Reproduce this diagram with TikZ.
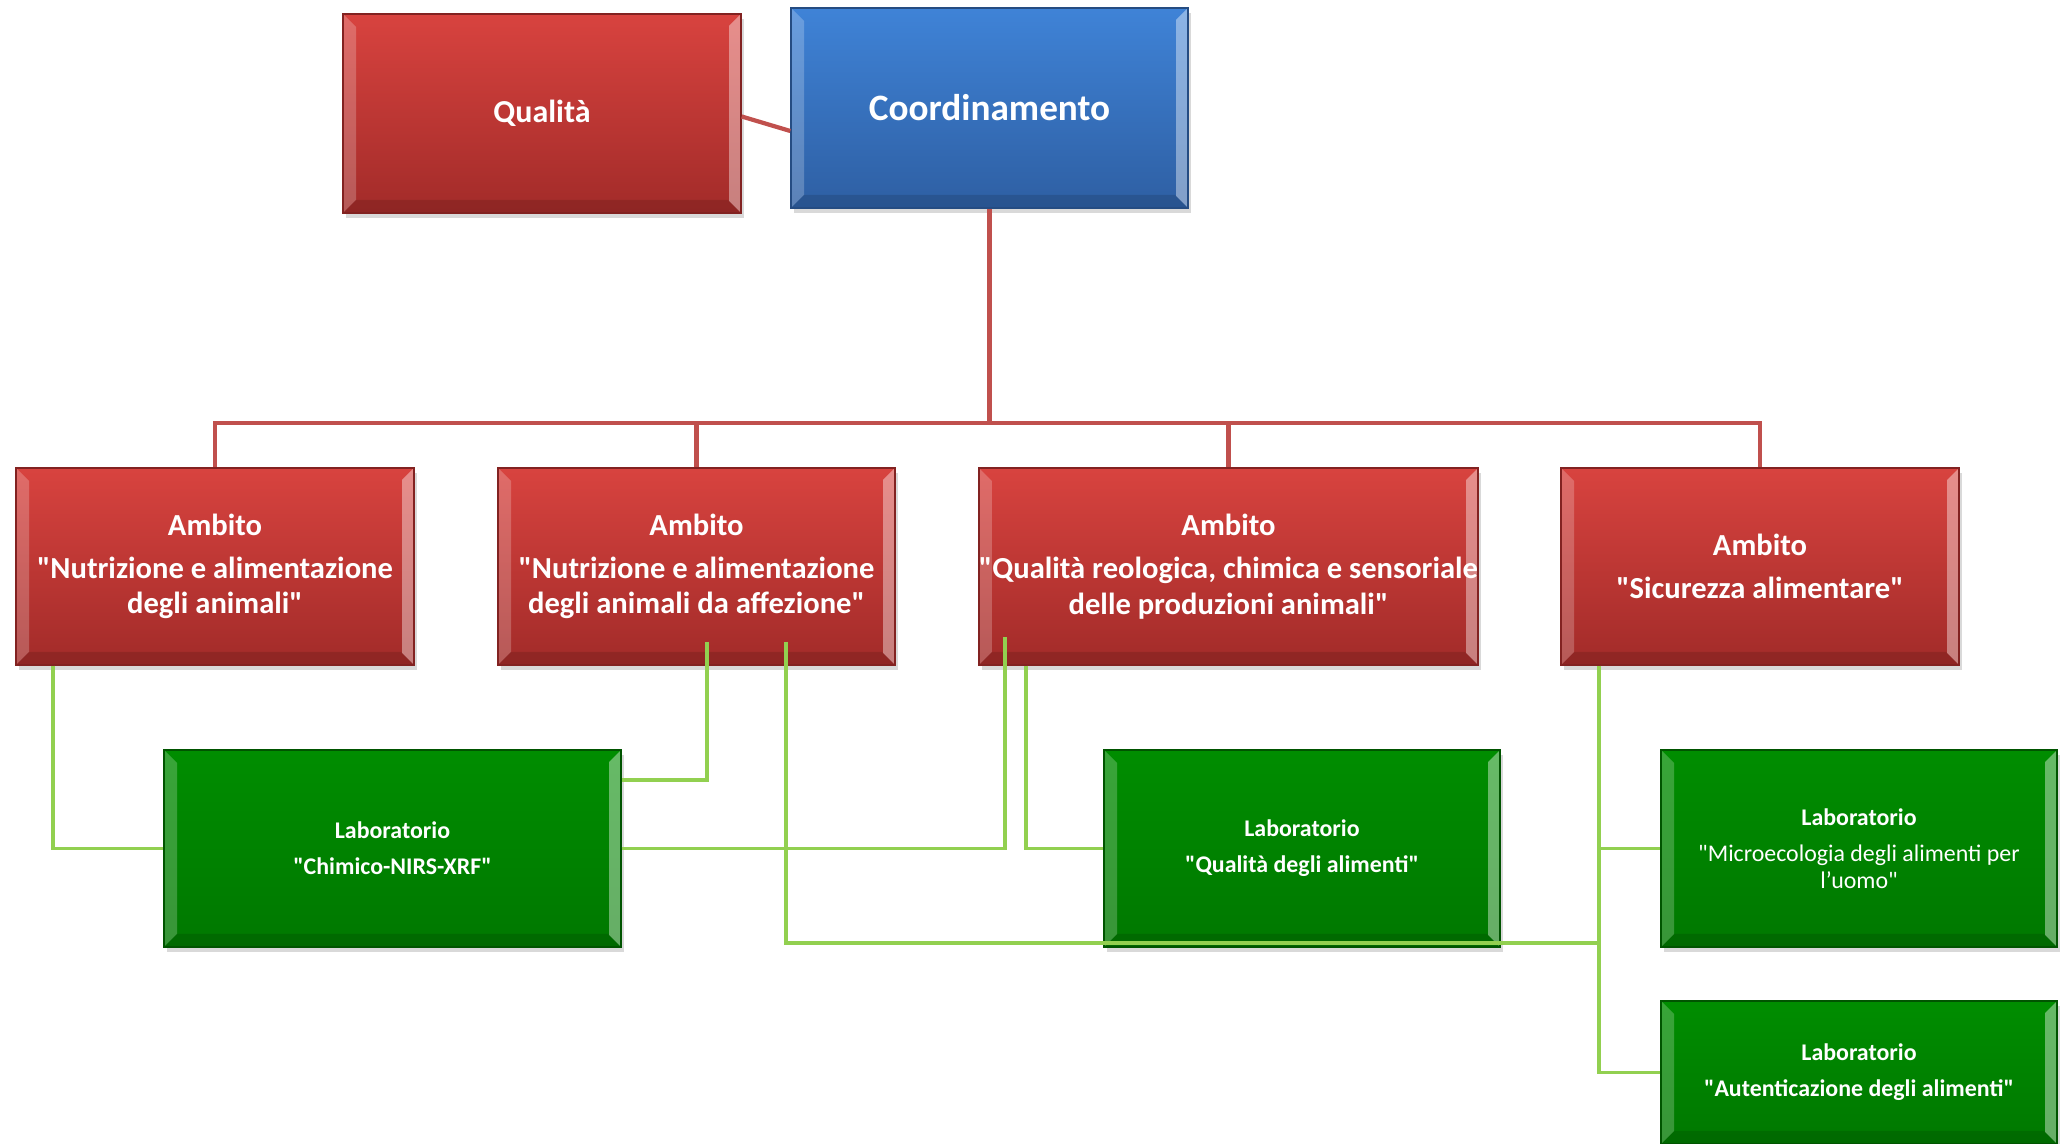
\documentclass[tikz,border=0pt]{standalone}
\usepackage{fontspec}
\setmainfont{Carlito}[Ligatures=TeXOff]
\usetikzlibrary{calc, shadows}

\definecolor{ambitotop}{HTML}{D8433F}
\definecolor{ambitobot}{HTML}{A22B29}
\definecolor{coordtop}{HTML}{3F83D7}
\definecolor{coordbot}{HTML}{2E5FA3}
\definecolor{labtop}{HTML}{008D00}
\definecolor{labbot}{HTML}{007800}
\definecolor{redwire}{HTML}{C0504D}
\definecolor{greenwire}{HTML}{92D050}

\tikzset{
  bevelbox/.style={inner sep=0pt, align=center, text=white,
    drop shadow={shadow xshift=.03cm, shadow yshift=-.05cm, opacity=.3},
    path picture={
      \fill[white, opacity=.22] (path picture bounding box.north west) -- ([shift={(.13,-.13)}]path picture bounding box.north west)
        -- ([shift={(.13,.13)}]path picture bounding box.south west) -- (path picture bounding box.south west) -- cycle;
      \fill[white, opacity=.4] (path picture bounding box.north east) -- ([shift={(-.12,-.12)}]path picture bounding box.north east)
        -- ([shift={(-.12,.12)}]path picture bounding box.south east) -- (path picture bounding box.south east) -- cycle;
      \fill[black, opacity=.12] (path picture bounding box.south west) -- ([shift={(.13,.13)}]path picture bounding box.south west)
        -- ([shift={(-.13,.13)}]path picture bounding box.south east) -- (path picture bounding box.south east) -- cycle;
    }},
  ambitobox/.style={bevelbox, top color=ambitotop, bottom color=ambitobot, draw=ambitobot!80!black, line width=.4pt,
    minimum height=1.97cm, font=\bfseries\fontsize{8.7}{10}\selectfont},
  coordbox/.style={bevelbox, top color=coordtop, bottom color=coordbot, draw=coordbot!80!black, line width=.4pt,
    minimum width=3.97cm, minimum height=2cm, font=\bfseries\fontsize{10.6}{12}\selectfont},
  labbox/.style={bevelbox, top color=labtop, bottom color=labbot, draw=labbot!70!black, line width=.4pt,
    minimum width=3.96cm, minimum height=1.97cm, font=\bfseries\fontsize{6.8}{8.3}\selectfont},
  redline/.style={draw=redwire, line width=1.2pt},
  greenline/.style={draw=greenwire, line width=1.1pt},
}

\begin{document}
\begin{tikzpicture}
  \useasboundingbox (0,0) rectangle (20.6,-11.44);

  % Vertice
  \node[ambitobox, minimum width=3.98cm, minimum height=1.99cm, font=\bfseries\fontsize{9.1}{11}\selectfont] (qual) at (5.42,-1.135) {Qualità};
  \node[coordbox] (coord) at (9.895,-1.08) {Coordinamento};

  % Ambiti
  \node[ambitobox, minimum width=3.98cm] (amb1) at (2.15,-5.665) {Ambito\\[2.3pt]"Nutrizione e alimentazione\\degli animali"};
  \node[ambitobox, minimum width=3.97cm] (amb2) at (6.965,-5.665) {Ambito\\[2.3pt]"Nutrizione e alimentazione\\degli animali da affezione"};
  \node[ambitobox, minimum width=4.99cm] (amb3) at (12.285,-5.665) {Ambito\\[2.3pt]"Qualità reologica, chimica e sensoriale\\delle produzioni animali"};
  \node[ambitobox, minimum width=3.98cm] (amb4) at (17.60,-5.665) {Ambito\\[2.3pt]"Sicurezza alimentare"};

  % Laboratori
  \node[labbox, minimum width=4.57cm] (lab1) at (3.925,-8.485) {Laboratorio\\[2pt]"Chimico-NIRS-XRF"};
  \node[labbox] (lab2) at (13.02,-8.485) {Laboratorio\\[2pt]"Qualità degli alimenti"};
  \node[labbox] (lab3) at (18.59,-8.485) {Laboratorio\\[2pt]{\mdseries"Microecologia degli alimenti per}\\[-.8pt]{\mdseries l’uomo"}};
  \node[labbox, minimum height=1.43cm] (lab4) at (18.59,-10.725) {Laboratorio\\[2pt]"Autenticazione degli alimenti"};

  % rami rossi
  \draw[redline] ([yshift=-.03cm]qual.east) -- ([yshift=-.23cm]coord.west);
  \draw[redline] (coord.south) -- (coord.south |- 0,-4.24);
  \draw[redline] (amb1.north) -- ++(0,.44) -| (amb4.north);
  \draw[redline] (amb2.north) -- ++(0,.44);
  \draw[redline] (amb3.north) -- ++(0,.44);

  % rami verdi
  \coordinate (a2in) at ($(amb2.south west)+(2.10,.24)$);
  \coordinate (a2out) at ($(amb2.south west)+(2.89,.24)$);
  \coordinate (a3in) at ($(amb3.south west)+(.27,.29)$);
  \coordinate (a3out) at ($(amb3.south west)+(.48,0)$);
  \coordinate (a4out) at ($(amb4.south west)+(.39,0)$);

  \draw[greenline] ([xshift=.38cm]amb1.south west) |- (lab1.west);
  \draw[greenline] (a2in) |- ([yshift=.685cm]lab1.east);
  \draw[greenline] (a2out) |- (a4out |- 0,-9.43);
  \draw[greenline] (lab1.east) -| (a3in);
  \draw[greenline] (a3out) |- (lab2.west);
  \draw[greenline] (a4out) |- (lab4.west);
  \draw[greenline] (a4out |- lab3.west) -- (lab3.west);
\end{tikzpicture}
\end{document}
